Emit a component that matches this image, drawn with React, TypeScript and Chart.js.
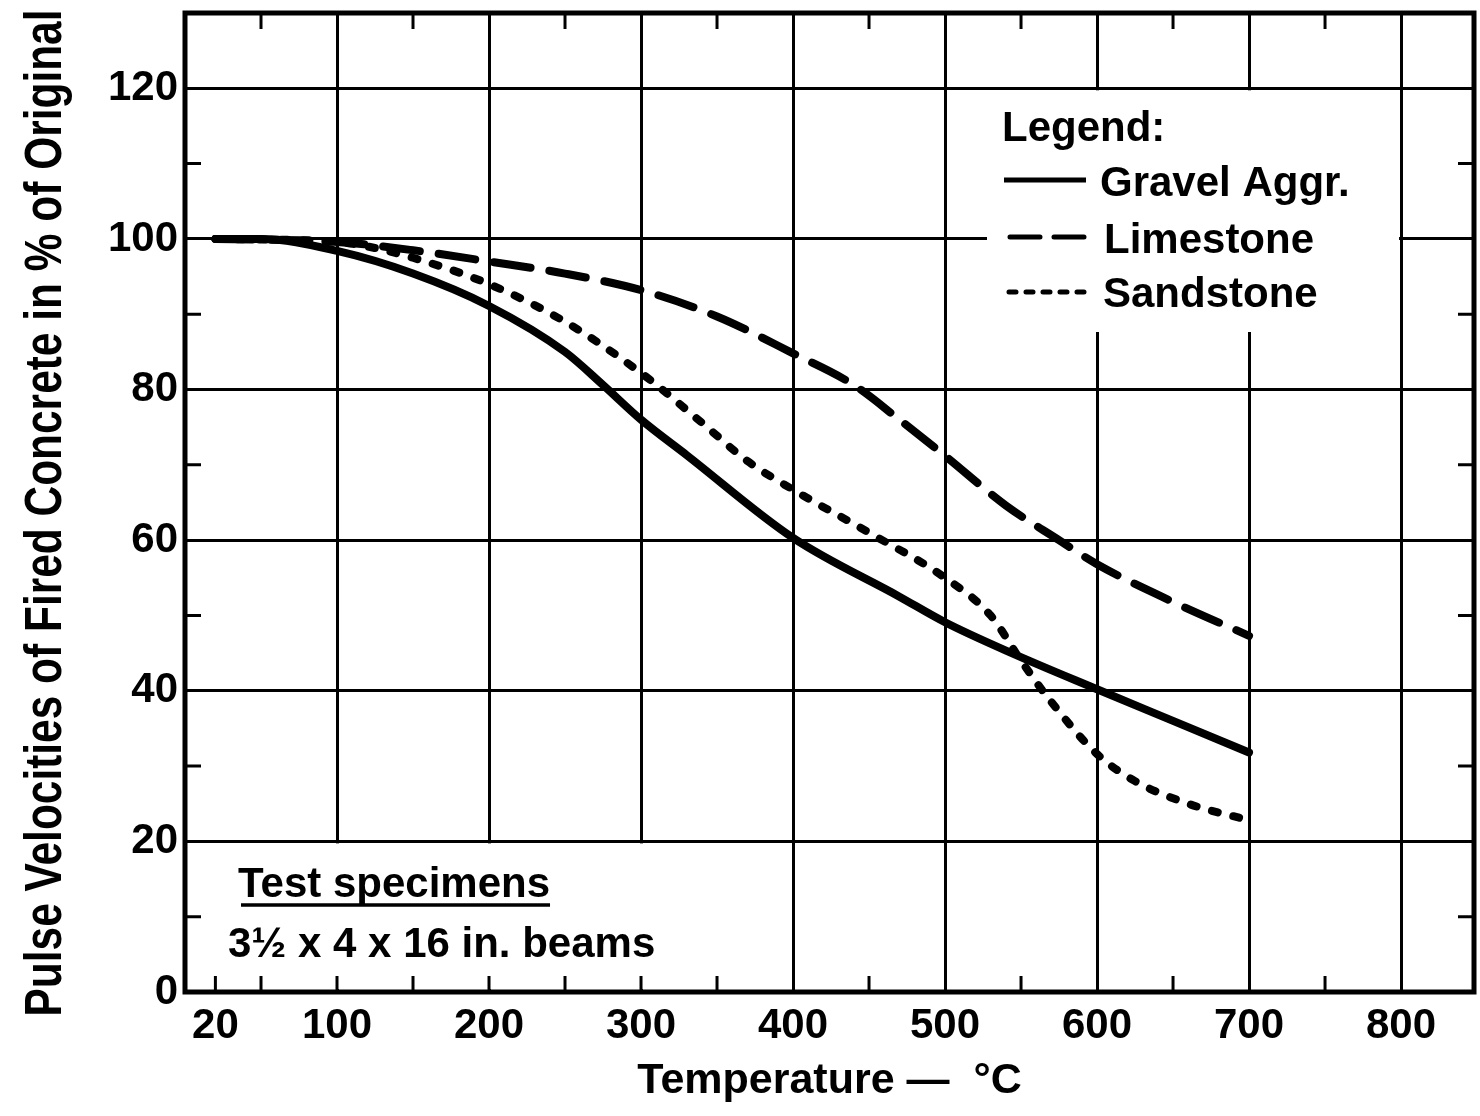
import React, { useEffect, useRef } from "react";
import { Chart, registerables } from "chart.js";

Chart.register(...registerables);

// ---- data ----
const gravelTemps = [20, 50, 100, 150, 200, 250, 275, 300, 330, 400, 470, 500, 545, 600, 650, 700];
const gravelValues = [100, 100, 98.4, 95.4, 91.1, 85, 80.6, 76, 71.3, 60.3, 52.5, 49.1, 44.9, 40.2, 36, 31.8];

const limestoneTemps = [20, 100, 150, 200, 250, 300, 350, 400, 440, 470, 500, 540, 575, 600, 650, 700];
const limestoneValues = [100, 99.6, 98.5, 97, 95.4, 93.2, 89.7, 84.8, 80.6, 76, 71.2, 64.6, 60, 56.8, 51.8, 47.3];

const sandstoneTemps = [20, 100, 120, 150, 200, 250, 300, 340, 370, 400, 450, 500, 530, 550, 570, 600, 625, 660, 700];
const sandstoneValues = [100, 99.6, 99, 97.5, 94, 89, 82.2, 75.6, 70.5, 66.7, 61, 55, 50, 44, 38.5, 31.6, 28, 25, 22.8];

const seriesNames = ["Gravel Aggr.", "Limestone", "Sandstone"];

const xTickValues = [20, 100, 200, 300, 400, 500, 600, 700, 800];
const yTickValues = [0, 20, 40, 60, 80, 100, 120];
const xBottomMinor = [20, 50, 100, 150, 200, 250, 300, 350, 450, 550, 650, 750];
const xTopMinor = [50, 150, 250, 350, 450, 550, 650, 750];
const yMinor = [10, 30, 50, 70, 90, 110];
const xMin = 0;
const xMax = 848;
const yMin = 0;
const yMax = 130;

const xAxisTitle = "Temperature —  °C";
const yAxisTitle = "Pulse Velocities of Fired Concrete in % of Original";
const legendTitle = "Legend:";
const noteTitle = "Test specimens";
const noteText = "3½ x 4 x 16 in. beams";

const FONT = "'Liberation Sans', Arial, sans-serif";

function toPoints(xs: number[], ys: number[]) {
  return xs.map((x, i) => ({ x, y: ys[i] }));
}

const decorPlugin = {
  id: "decor",
  beforeDatasetsDraw(chart: any) {
    const { ctx, chartArea: a, scales } = chart;
    const x = scales.x;
    const y = scales.y;
    ctx.save();
    // white boxes behind legend and note (gridlines interrupted there)
    ctx.fillStyle = "#fff";
    const y120 = y.getPixelForValue(120);
    const x800 = x.getPixelForValue(800);
    ctx.fillRect(987, y120 + 2, x800 - 2 - 987, 332 - y120 - 2);
    const y20 = y.getPixelForValue(20);
    ctx.fillRect(a.left + 3, y20 + 2, 692 - a.left - 3, a.bottom - 3 - y20 - 2);

    ctx.strokeStyle = "#000";
    ctx.lineWidth = 3;
    const L = 16;
    for (const v of xBottomMinor) {
      const px = x.getPixelForValue(v);
      ctx.beginPath();
      ctx.moveTo(px, a.bottom);
      ctx.lineTo(px, a.bottom - L);
      ctx.stroke();
    }
    for (const v of xTopMinor) {
      const px = x.getPixelForValue(v);
      ctx.beginPath();
      ctx.moveTo(px, a.top);
      ctx.lineTo(px, a.top + L);
      ctx.stroke();
    }
    for (const v of yMinor) {
      const py = y.getPixelForValue(v);
      ctx.beginPath();
      ctx.moveTo(a.left, py);
      ctx.lineTo(a.left + L, py);
      ctx.moveTo(a.right, py);
      ctx.lineTo(a.right - L, py);
      ctx.stroke();
    }
    ctx.lineWidth = 5;
    ctx.strokeRect(a.left, a.top, a.right - a.left, a.bottom - a.top);
    ctx.restore();
  },
  afterDraw(chart: any) {
    const { ctx } = chart;
    const ds = chart.data.datasets;
    ctx.save();
    ctx.fillStyle = "#000";
    ctx.strokeStyle = "#000";

    // y axis title (condensed to fit)
    ctx.save();
    ctx.translate(47, 513);
    ctx.rotate(-Math.PI / 2);
    ctx.font = `bold 51px ${FONT}`;
    ctx.textAlign = "center";
    ctx.textBaseline = "middle";
    ctx.fillText(yAxisTitle, 0, 0, 1007);
    ctx.restore();

    ctx.font = `bold 42px ${FONT}`;
    ctx.textAlign = "left";
    ctx.textBaseline = "alphabetic";
    // legend
    ctx.fillText(legendTitle, 1002, 141);
    const rows = [
      { y: 180, ty: 196, tx: 1100, x0: 1004, dash: [] as number[] },
      { y: 237, ty: 253, tx: 1104, x0: 1010, dash: [30, 14] },
      { y: 292, ty: 307, tx: 1103, x0: 1009, dash: [7, 10] },
    ];
    rows.forEach((r, i) => {
      ctx.save();
      ctx.lineWidth = 5;
      ctx.lineCap = r.dash.length ? "round" : "butt";
      ctx.setLineDash(r.dash);
      ctx.beginPath();
      ctx.moveTo(r.x0, r.y);
      ctx.lineTo(1086, r.y);
      ctx.stroke();
      ctx.restore();
      ctx.fillText(ds[i].label, r.tx, r.ty);
    });
    // note
    ctx.fillText(noteTitle, 238, 897);
    const w = ctx.measureText(noteTitle).width;
    ctx.lineWidth = 3.5;
    ctx.beginPath();
    ctx.moveTo(241, 905);
    ctx.lineTo(238 + w, 905);
    ctx.stroke();
    ctx.fillText(noteText, 228, 957);
    ctx.restore();
  },
};

export default function App() {
  const canvasRef = useRef<HTMLCanvasElement | null>(null);

  useEffect(() => {
    const canvas = canvasRef.current;
    if (!canvas) return;
    const lineCommon = {
      borderColor: "#000",
      backgroundColor: "#000",
      borderWidth: 8,
      pointRadius: 0,
      cubicInterpolationMode: "monotone" as const,
      fill: false,
    };
    const chart = new Chart(canvas, {
      type: "line",
      data: {
        datasets: [
          { ...lineCommon, label: seriesNames[0], data: toPoints(gravelTemps, gravelValues), borderCapStyle: "round" },
          { ...lineCommon, label: seriesNames[1], data: toPoints(limestoneTemps, limestoneValues), borderDash: [37, 19], borderCapStyle: "round" },
          { ...lineCommon, label: seriesNames[2], data: toPoints(sandstoneTemps, sandstoneValues), borderDash: [6, 16], borderCapStyle: "round" },
        ],
      },
      options: {
        animation: false,
        responsive: false,
        devicePixelRatio: 1,
        layout: { padding: { left: 0, top: 13, right: 6, bottom: 0 } },
        plugins: {
          legend: { display: false },
          tooltip: { enabled: false },
        },
        scales: {
          x: {
            type: "linear",
            min: xMin,
            max: xMax,
            afterBuildTicks: (axis: any) => {
              axis.ticks = xTickValues.map((v) => ({ value: v }));
            },
            afterFit: (axis: any) => {
              axis.height = 124;
              axis.paddingLeft = 0;
              axis.paddingRight = 0;
            },
            border: { display: false },
            grid: {
              color: (c: any) => (c.tick && c.tick.value === 20 ? "rgba(0,0,0,0)" : "#000"),
              lineWidth: 3,
              drawTicks: false,
            },
            ticks: {
              autoSkip: false,
              maxRotation: 0,
              color: "#000",
              padding: 9,
              font: { family: FONT, size: 42, weight: "bold" },
            },
            title: {
              display: true,
              text: xAxisTitle,
              color: "#000",
              font: { family: FONT, size: 43, weight: "bold" },
              padding: { top: 0, bottom: 9 },
            },
          },
          y: {
            type: "linear",
            min: yMin,
            max: yMax,
            afterBuildTicks: (axis: any) => {
              axis.ticks = yTickValues.map((v) => ({ value: v }));
            },
            afterFit: (axis: any) => {
              axis.width = 185;
              axis.paddingTop = 0;
              axis.paddingBottom = 0;
            },
            border: { display: false },
            grid: {
              color: "#000",
              lineWidth: 3,
              drawTicks: false,
            },
            ticks: {
              autoSkip: false,
              color: "#000",
              padding: 7,
              font: { family: FONT, size: 42, weight: "bold" },
            },
            title: { display: false },
          },
        },
      },
      plugins: [decorPlugin],
    });
    return () => chart.destroy();
  }, []);

  return (
    <div style={{ position: "absolute", left: 0, top: 0, width: 1480, height: 1116, background: "#fff" }}>
      <canvas ref={canvasRef} width={1480} height={1116} style={{ display: "block" }} />
    </div>
  );
}
